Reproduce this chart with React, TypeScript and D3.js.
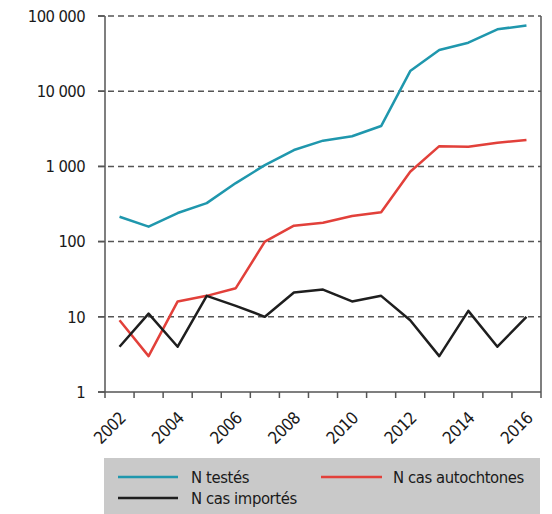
import React from 'react';
import * as d3 from 'd3';

const YEARS = [2002, 2003, 2004, 2005, 2006, 2007, 2008, 2009, 2010, 2011, 2012, 2013, 2014, 2015, 2016];
const TESTES = [214, 158, 240, 325, 600, 1040, 1650, 2200, 2520, 3440, 18500, 35300, 44200, 66500, 75000];
const AUTOCHTONES = [9, 3, 16, 19, 24, 100, 163, 178, 219, 245, 850, 1860, 1830, 2070, 2240];
const IMPORTES = [4, 11, 4, 19, 14, 10, 21, 23, 16, 19, 9, 3, 12, 4, 10];
const Y_TICKS = [1, 10, 100, 1000, 10000, 100000];
const X_LABELS = [2002, 2004, 2006, 2008, 2010, 2012, 2014, 2016];

const SERIES = [
  { name: 'N testés', values: TESTES, color: '#1f97ad' },
  { name: 'N cas autochtones', values: AUTOCHTONES, color: '#e2403a' },
  { name: 'N cas importés', values: IMPORTES, color: '#1e1e1e' },
];

const FONT = '"Liberation Sans Narrow", "DejaVu Sans Condensed", "Roboto", sans-serif';

export default function App() {
  const width = 552, height = 514;
  const left = 105, right = 541, top = 16, bottom = 392;

  const x = d3.scaleBand<number>().domain(YEARS).range([left, right]);
  const y = d3.scaleLog().domain([1, 100000]).range([bottom, top]);
  const cx = (yr: number) => (x(yr) as number) + x.bandwidth() / 2;

  const line = d3.line<number>()
    .x((_, i) => cx(YEARS[i]))
    .y(d => y(d));

  const fmt = (v: number) => d3.format(',')(v).replace(/,/g, ' ');
  const tickXs = [...YEARS.map(yr => x(yr) as number), right];

  return (
    <div style={{ position: 'fixed', left: 0, top: 0 }}>
      <svg width={width} height={height} style={{ display: 'block', background: '#fff', fontFamily: FONT }}>
        {/* grid */}
        {Y_TICKS.filter(t => t > 1).map(t => (
          <line key={t} x1={left - 7} x2={right} y1={y(t)} y2={y(t)}
            stroke="#555" strokeWidth={1.5} strokeDasharray="6 4" />
        ))}
        {/* y ticks */}
        {Y_TICKS.map(t => (
          <g key={t}>
            <line x1={left - 7} x2={left} y1={y(t)} y2={y(t)} stroke="#555" strokeWidth={1.5} />
            <text x={left - 20} y={y(t)} dy="0.35em" textAnchor="end" fontSize={16.5} fill="#1a1a1a"
              letterSpacing={-0.6}>{fmt(t)}</text>
          </g>
        ))}
        {/* axes frame */}
        <line x1={left} x2={left} y1={top} y2={bottom} stroke="#555" strokeWidth={1.5} />
        <line x1={right} x2={right} y1={top} y2={bottom} stroke="#555" strokeWidth={1.5} />
        <line x1={left - 7} x2={right} y1={bottom} y2={bottom} stroke="#555" strokeWidth={1.5} />
        {tickXs.map((tx, i) => (
          <line key={i} x1={tx} x2={tx} y1={bottom} y2={bottom + 6} stroke="#555" strokeWidth={1.5} />
        ))}
        {X_LABELS.map(yr => (
          <text key={yr} transform={`translate(${cx(yr) + 3},${bottom + 23}) rotate(-45)`}
            textAnchor="end" dy="0.35em" fontSize={17} fill="#1a1a1a" letterSpacing={-0.6}>{yr}</text>
        ))}
        {/* series */}
        {SERIES.map(s => (
          <path key={s.name} d={line(s.values) || ''} fill="none" stroke={s.color} strokeWidth={2.5}
            strokeLinejoin="round" />
        ))}
        {/* legend */}
        <rect x={104} y={458} width={436} height={56} fill="#c9c9c9" />
        <line x1={118} x2={178} y1={477} y2={477} stroke={SERIES[0].color} strokeWidth={2.5} />
        <text x={191} y={477} dy="0.35em" fontSize={16.5} fill="#1a1a1a" letterSpacing={-0.4}>{SERIES[0].name}</text>
        <line x1={321} x2={382} y1={477} y2={477} stroke={SERIES[1].color} strokeWidth={2.5} />
        <text x={393} y={477} dy="0.35em" fontSize={16.5} fill="#1a1a1a" letterSpacing={-0.4}>{SERIES[1].name}</text>
        <line x1={118} x2={178} y1={498} y2={498} stroke={SERIES[2].color} strokeWidth={2.5} />
        <text x={191} y={498} dy="0.35em" fontSize={16.5} fill="#1a1a1a" letterSpacing={-0.4}>{SERIES[2].name}</text>
      </svg>
    </div>
  );
}
